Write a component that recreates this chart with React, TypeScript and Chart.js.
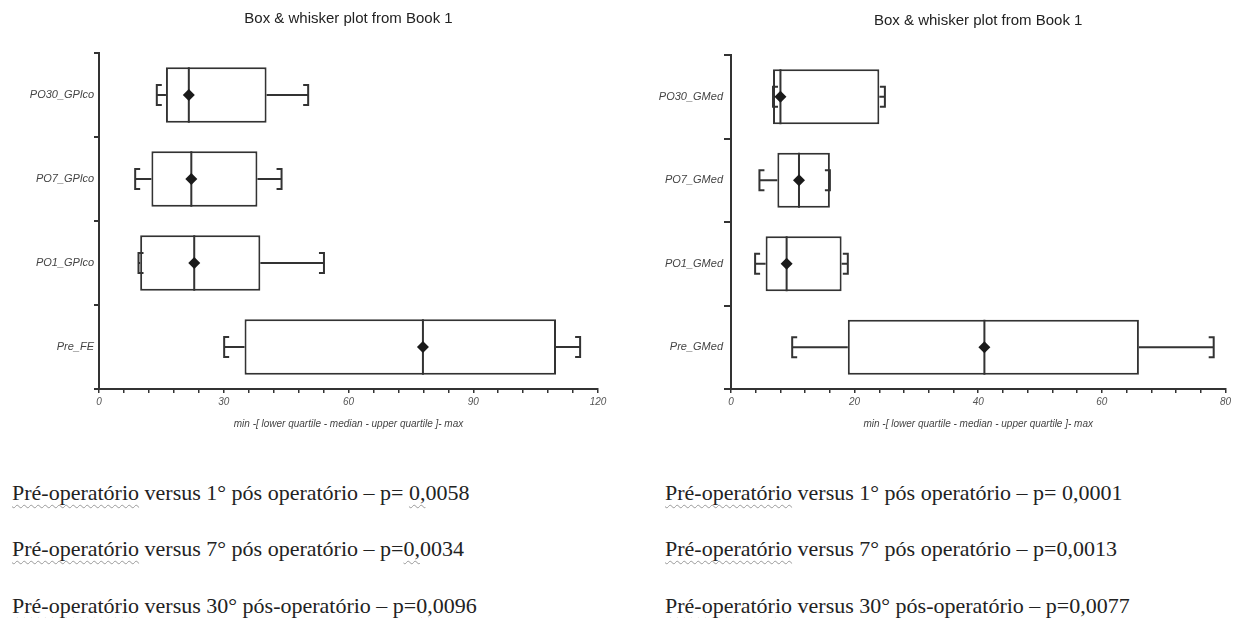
import React, { useEffect, useRef } from 'react';
import { Chart, registerables } from 'chart.js';

Chart.register(...registerables);

// ---------- data ----------
const chartTitle = 'Box & whisker plot from Book 1';
const axisTitle = 'min -[ lower quartile - median - upper quartile ]- max';

const leftLabels = ['PO30_GPlco', 'PO7_GPlco', 'PO1_GPlco', 'Pre_FE'];
const leftMin = [13.9, 8.7, 9.5, 30.1];
const leftQ1 = [16.1, 12.6, 9.9, 35.0];
const leftMedian = [21.6, 22.2, 22.9, 77.9];
const leftQ3 = [40.3, 38.1, 38.8, 109.9];
const leftMax = [50.3, 43.9, 54.1, 115.7];
const leftMean = [21.6, 22.2, 22.9, 77.9];
const leftAxisMax = 120;
const leftMajorStep = 30;
const leftMinorStep = 6;

const rightLabels = ['PO30_GMed', 'PO7_GMed', 'PO1_GMed', 'Pre_GMed'];
const rightMin = [6.8, 4.6, 3.9, 9.9];
const rightQ1 = [6.8, 7.5, 5.6, 18.9];
const rightMedian = [8.0, 11.0, 9.0, 41.0];
const rightQ3 = [24.0, 16.0, 17.9, 66.0];
const rightMax = [24.9, 16.0, 18.9, 78.1];
const rightMean = [8.0, 11.0, 9.0, 41.0];
const rightAxisMax = 80;
const rightMajorStep = 20;
const rightMinorStep = 4;

const comparisonPrefix = 'Pré-operatório';
const comparisonTexts = [
  ' versus 1° pós operatório – p=',
  ' versus 7° pós operatório – p=',
  ' versus 30° pós-operatório – p=',
];
const leftPValues = [' 0,0058', '0,0034', '0,0096'];
const rightPValues = [' 0,0001', '0,0013', '0,0077'];

// ---------- styles ----------
const INK = '#333333';
const SANS = "'Liberation Sans', Arial, sans-serif";
const SERIF = "'Liberation Serif', 'Times New Roman', serif";

function makeWhiskerPlugin(min: number[], q1: number[], median: number[], q3: number[], max: number[]) {
  return {
    id: 'whiskers',
    afterDatasetDraw(chart: any, args: any) {
      if (args.index !== 0) return;
      const ctx = chart.ctx;
      const xs = chart.scales.x;
      const meta = chart.getDatasetMeta(0);
      const capHalf = 10;
      const capTick = 5;
      ctx.save();
      ctx.strokeStyle = INK;
      ctx.lineWidth = 2;
      meta.data.forEach((el: any, i: number) => {
        const p = el.getProps(['y', 'height'], true);
        const cy = p.y;
        const top = cy - p.height / 2;
        const bottom = cy + p.height / 2;
        const pMin = xs.getPixelForValue(min[i]);
        const pQ1 = xs.getPixelForValue(q1[i]);
        const pMed = xs.getPixelForValue(median[i]);
        const pQ3 = xs.getPixelForValue(q3[i]);
        const pMax = xs.getPixelForValue(max[i]);
        ctx.beginPath();
        ctx.moveTo(pMed, top);
        ctx.lineTo(pMed, bottom);
        ctx.moveTo(pMin, cy);
        ctx.lineTo(pQ1, cy);
        ctx.moveTo(pQ3, cy);
        ctx.lineTo(pMax, cy);
        ctx.stroke();
        ctx.beginPath();
        ctx.moveTo(pMin + capTick, cy - capHalf);
        ctx.lineTo(pMin, cy - capHalf);
        ctx.lineTo(pMin, cy + capHalf);
        ctx.lineTo(pMin + capTick, cy + capHalf);
        ctx.moveTo(pMax - capTick, cy - capHalf);
        ctx.lineTo(pMax, cy - capHalf);
        ctx.lineTo(pMax, cy + capHalf);
        ctx.lineTo(pMax - capTick, cy + capHalf);
        ctx.stroke();
      });
      ctx.restore();
    },
  };
}

type BoxProps = {
  labels: string[];
  min: number[];
  q1: number[];
  median: number[];
  q3: number[];
  max: number[];
  mean: number[];
  axisMax: number;
  majorStep: number;
  minorStep: number;
  left: number;
  width: number;
  height: number;
  yAxisWidth: number;
  xAxisHeight: number;
  padRight: number;
  titleTop: number;
  titleBottom: number;
  yTickLength: number;
  yTickPadding: number;
};

function BoxWhiskerChart(props: BoxProps) {
  const ref = useRef<HTMLCanvasElement | null>(null);
  useEffect(() => {
    if (!ref.current) return;
    const boxes = props.q1.map((v, i) => [v, props.q3[i]]);
    const chart = new Chart(ref.current, {
      type: 'bar',
      data: {
        labels: props.labels,
        datasets: [
          {
            type: 'bar',
            data: boxes as any,
            backgroundColor: '#ffffff',
            borderColor: INK,
            borderWidth: 2,
            borderSkipped: false,
            barPercentage: 0.66,
            categoryPercentage: 1,
            order: 2,
          } as any,
          {
            type: 'line',
            indexAxis: 'y',
            data: props.mean,
            showLine: false,
            pointStyle: 'rectRot',
            pointRadius: 6,
            backgroundColor: '#1a1a1a',
            borderColor: '#1a1a1a',
            borderWidth: 0,
            order: 1,
          } as any,
        ],
      },
      options: {
        indexAxis: 'y',
        animation: false,
        responsive: true,
        maintainAspectRatio: false,
        events: [],
        layout: { padding: { left: 0, right: props.padRight, top: 0, bottom: 0 } },
        plugins: {
          legend: { display: false },
          tooltip: { enabled: false },
          title: {
            display: true,
            text: chartTitle,
            fullSize: false,
            color: '#222222',
            font: { family: SANS, size: 15, weight: 'normal' },
            padding: { top: props.titleTop, bottom: props.titleBottom },
          },
        },
        scales: {
          x: {
            type: 'linear',
            min: 0,
            max: props.axisMax,
            afterFit: (scale: any) => {
              scale.height = props.xAxisHeight;
            },
            border: { display: true, color: INK, width: 2 },
            grid: { display: true, drawOnChartArea: false, drawTicks: true, tickLength: 4, color: INK, lineWidth: 1.5 },
            ticks: {
              stepSize: props.minorStep,
              autoSkip: false,
              maxRotation: 0,
              padding: 3,
              color: '#555555',
              font: { family: SANS, size: 10, style: 'italic' },
              callback: (v: any) => (Number(v) % props.majorStep === 0 ? String(v) : ''),
            },
            title: {
              display: true,
              text: axisTitle,
              color: '#444444',
              font: { family: SANS, size: 10, style: 'italic' },
              padding: { top: 0, bottom: 10 },
            },
          },
          y: {
            type: 'category',
            offset: true,
            afterFit: (scale: any) => {
              scale.width = props.yAxisWidth;
            },
            border: { display: true, color: INK, width: 2 },
            grid: { display: true, offset: true, drawOnChartArea: false, drawTicks: true, tickLength: props.yTickLength, color: INK, lineWidth: 2 },
            ticks: {
              padding: props.yTickPadding,
              color: '#444444',
              font: { family: SANS, size: 11, style: 'italic' },
            },
          },
        },
      },
      plugins: [makeWhiskerPlugin(props.min, props.q1, props.median, props.q3, props.max)],
    } as any);
    return () => chart.destroy();
  }, []);
  return (
    <div style={{ position: 'absolute', left: props.left, top: 0, width: props.width, height: props.height }}>
      <canvas ref={ref} />
    </div>
  );
}

function ComparisonLines(p: { left: number; values: string[]; squiggleZero: boolean }) {
  const wavy: React.CSSProperties = {
    textDecorationLine: 'underline',
    textDecorationStyle: 'wavy',
    textDecorationColor: '#9a9a9a',
    textDecorationThickness: '1px',
    textUnderlineOffset: '4px',
    textDecorationSkipInk: 'none' as any,
  };
  const tops = [482, 538, 595];
  return (
    <>
      {comparisonTexts.map((t, i) => {
        const v = p.values[i];
        const lead = v.startsWith(' ') ? ' ' : '';
        const num = v.trim();
        return (
          <div
            key={i}
            style={{
              position: 'absolute',
              left: p.left,
              top: tops[i],
              fontFamily: SERIF,
              fontSize: 22,
              lineHeight: '22px',
              color: '#222222',
              whiteSpace: 'pre',
            }}
          >
            <span style={wavy}>{comparisonPrefix}</span>
            {t}
            {lead}
            {p.squiggleZero ? (
              <>
                <span style={wavy}>{num.slice(0, 2)}</span>
                {num.slice(2)}
              </>
            ) : (
              num
            )}
          </div>
        );
      })}
    </>
  );
}

export default function App() {
  return (
    <div style={{ position: 'absolute', left: 0, top: 0, width: 1234, height: 618, background: '#ffffff', overflow: 'hidden' }}>
      <BoxWhiskerChart
        labels={leftLabels}
        min={leftMin}
        q1={leftQ1}
        median={leftMedian}
        q3={leftQ3}
        max={leftMax}
        mean={leftMean}
        axisMax={leftAxisMax}
        majorStep={leftMajorStep}
        minorStep={leftMinorStep}
        left={0}
        width={617}
        height={440}
        yAxisWidth={99}
        xAxisHeight={51}
        padRight={19}
        titleTop={10}
        titleBottom={25}
        yTickLength={5}
        yTickPadding={0}
      />
      <BoxWhiskerChart
        labels={rightLabels}
        min={rightMin}
        q1={rightQ1}
        median={rightMedian}
        q3={rightQ3}
        max={rightMax}
        mean={rightMean}
        axisMax={rightAxisMax}
        majorStep={rightMajorStep}
        minorStep={rightMinorStep}
        left={617}
        width={617}
        height={440}
        yAxisWidth={114}
        xAxisHeight={51}
        padRight={8}
        titleTop={12}
        titleBottom={25}
        yTickLength={7}
        yTickPadding={1}
      />
      <ComparisonLines left={12} values={leftPValues} squiggleZero={true} />
      <ComparisonLines left={665} values={rightPValues} squiggleZero={false} />
    </div>
  );
}
